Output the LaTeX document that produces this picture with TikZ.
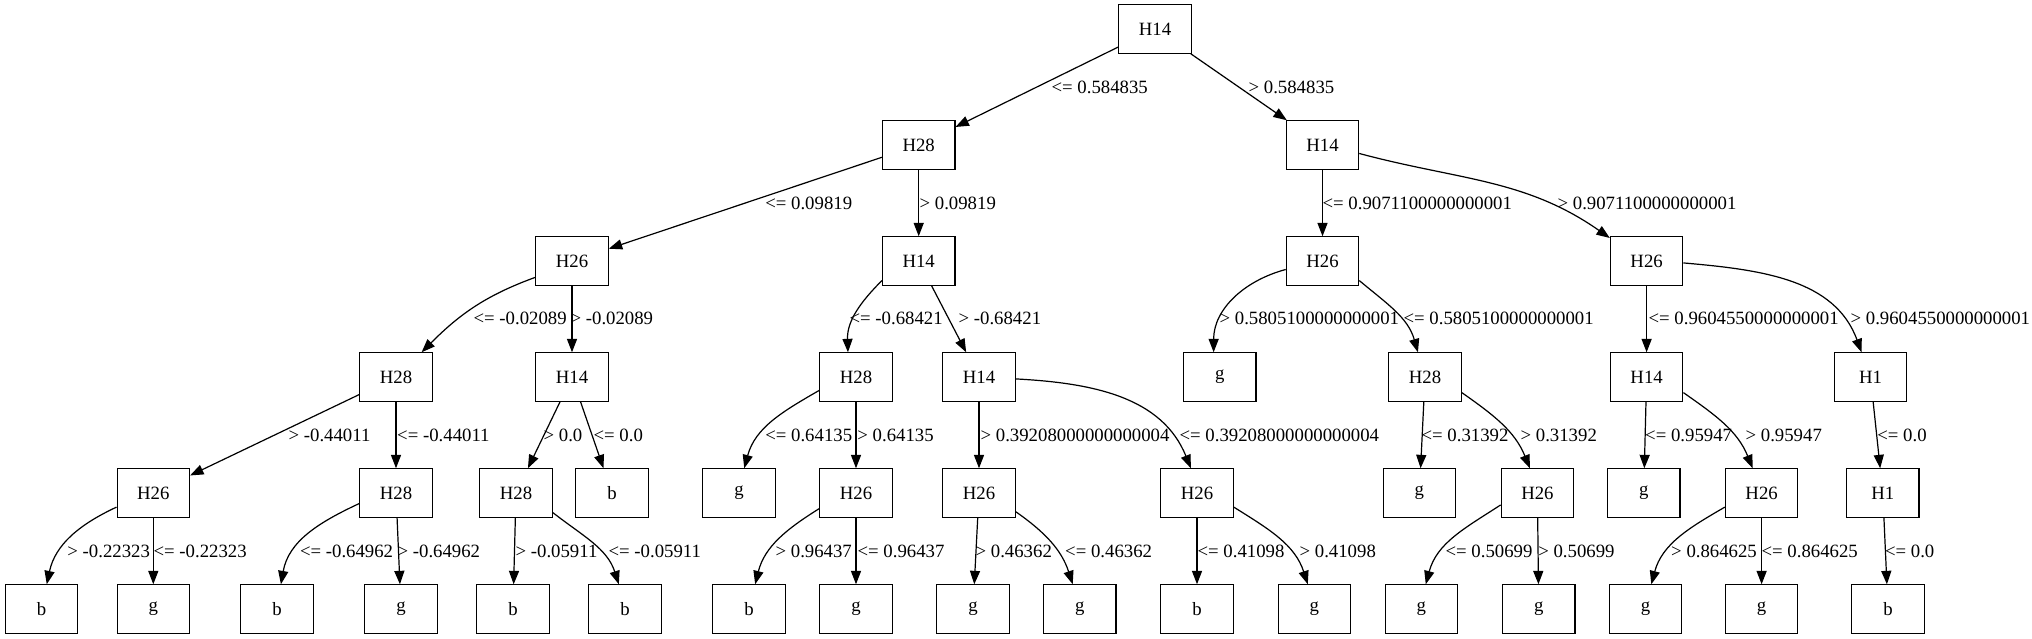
\documentclass[tikz,border=0pt]{standalone}
\usepackage{fontspec}
\setmainfont{Liberation Serif}
\usetikzlibrary{arrows.meta}
\begin{document}
\begin{tikzpicture}[x=0.746pt, y=0.746pt,
    box/.style={rectangle, draw, line width=0.9pt, minimum width=54pt, minimum height=36pt, inner sep=0pt, font=\fontsize{14}{16}\selectfont},
    branch/.style={line width=0.9pt, -{Triangle[length=10pt, width=7.5pt]}},
    cond/.style={anchor=west, inner sep=0pt, font=\fontsize{14}{16}\selectfont}]
    \useasboundingbox (0,0) rectangle (2032,-639) ;
    % level 0 and 1
    \node [box] at (1155,  -29) (A) {H14} ;
    \node [box] at (918.7, -145) (B) {H28} ;
    \node [box] at (1322.5,-145) (C) {H14} ;
    % level 2
    \node [box] at (572,   -261) (D) {H26} ;
    \node [box] at (918.7, -261) (E) {H14} ;
    \node [box] at (1322.5,-261) (F) {H26} ;
    \node [box] at (1646.6,-261) (G) {H26} ;
    % level 3
    \node [box] at (396,   -377) (H) {H28} ;
    \node [box] at (572,   -377) (I) {H14} ;
    \node [box] at (856,   -377) (J) {H28} ;
    \node [box] at (979,   -377) (K) {H14} ;
    \node [box] at (1219.8,-377) (L) {g} ;
    \node [box] at (1425,  -377) (M) {H28} ;
    \node [box] at (1646.6,-377) (N) {H14} ;
    \node [box] at (1870.5,-377) (O) {H1} ;
    % level 4
    \node [box] at (153.3, -493) (P) {H26} ;
    \node [box] at (396,   -493) (Q) {H28} ;
    \node [box] at (516,   -493) (R) {H28} ;
    \node [box] at (612,   -493) (S) {b} ;
    \node [box] at (739,   -493) (T) {g} ;
    \node [box] at (856,   -493) (U) {H26} ;
    \node [box] at (979,   -493) (V) {H26} ;
    \node [box] at (1197,  -493) (W) {H26} ;
    \node [box] at (1419.4,-493) (X) {g} ;
    \node [box] at (1537.4,-493) (Y) {H26} ;
    \node [box] at (1643.7,-493) (Z) {g} ;
    \node [box] at (1761.6,-493) (AA) {H26} ;
    \node [box] at (1882.8,-493) (AB) {H1} ;
    % level 5
    \node [box] at (41.5,  -609) (AC) {b} ;
    \node [box] at (153.3, -609) (AD) {g} ;
    \node [box] at (277,   -609) (AE) {b} ;
    \node [box] at (401,   -609) (AF) {g} ;
    \node [box] at (513,   -609) (AG) {b} ;
    \node [box] at (625,   -609) (AH) {b} ;
    \node [box] at (749,   -609) (AI) {b} ;
    \node [box] at (856,   -609) (AJ) {g} ;
    \node [box] at (973,   -609) (AK) {g} ;
    \node [box] at (1079.8,-609) (AL) {g} ;
    \node [box] at (1197,  -609) (AM) {b} ;
    \node [box] at (1314.4,-609) (AN) {g} ;
    \node [box] at (1421.4,-609) (AO) {g} ;
    \node [box] at (1538.7,-609) (AP) {g} ;
    \node [box] at (1645.6,-609) (AQ) {g} ;
    \node [box] at (1761.6,-609) (AR) {g} ;
    \node [box] at (1888,  -609) (AS) {b} ;
    % branches
    \draw[branch] (A) -- (B) node[cond] at (1051,-87) {<= 0.584835} ;
    \draw[branch] (A) -- (C) node[cond] at (1248,-87) {> 0.584835} ;
    \draw[branch] (B) -- (D) node[cond] at (764.7,-203) {<= 0.09819} ;
    \draw[branch] (B) -- (E) node[cond] at (919,-203) {> 0.09819} ;
    \draw[branch] (C) -- (F) node[cond] at (1322,-203) {<= 0.9071100000000001} ;
    \draw[branch] (C.-13) to[out=-15, in=145] (G.148) node[cond] at (1557,-203) {> 0.9071100000000001} ;
    \draw[branch] (D.204) to[out=200, in=45] (H.44) node[cond] at (473,-318) {<= -0.02089} ;
    \draw[branch] (D) -- (I) node[cond] at (570,-318) {> -0.02089} ;
    \draw[branch] (E.208) to[out=225, in=92] (J.108) node[cond] at (849,-318) {<= -0.68421} ;
    \draw[branch] (E) -- (K) node[cond] at (958,-318) {> -0.68421} ;
    \draw[branch] (F.193) to[out=195, in=90] (L.104) node[cond] at (1219,-318) {> 0.5805100000000001} ;
    \draw[branch] (F.-28) to[out=-40, in=106] (M.106) node[cond] at (1403,-318) {<= 0.5805100000000001} ;
    \draw[branch] (G) -- (N) node[cond] at (1648,-318) {<= 0.9604550000000001} ;
    \draw[branch] (G.-3) to[out=-5, in=110] (O.110) node[cond] at (1850,-318) {> 0.9604550000000001} ;
    \draw[branch] (H) -- (P) node[cond] at (288,-435) {> -0.44011} ;
    \draw[branch] (H) -- (Q) node[cond] at (396.6,-435) {<= -0.44011} ;
    \draw[branch] (I) -- (R) node[cond] at (543,-435) {> 0.0} ;
    \draw[branch] (I) -- (S) node[cond] at (593,-435) {<= 0.0} ;
    \draw[branch] (J.200) to[out=210, in=75] (T.78) node[cond] at (764.7,-435) {<= 0.64135} ;
    \draw[branch] (J) -- (U) node[cond] at (856.8,-435) {> 0.64135} ;
    \draw[branch] (K) -- (V) node[cond] at (980,-435) {> 0.39208000000000004} ;
    \draw[branch] (K.-3) to[out=-3, in=112] (W.104) node[cond] at (1179,-435) {<= 0.39208000000000004} ;
    \draw[branch] (M) -- (X) node[cond] at (1421,-435) {<= 0.31392} ;
    \draw[branch] (M.-23) to[out=-35, in=112] (Y.107) node[cond] at (1520,-435) {> 0.31392} ;
    \draw[branch] (N) -- (Z) node[cond] at (1644.6,-435) {<= 0.95947} ;
    \draw[branch] (N.-23) to[out=-35, in=112] (AA.110) node[cond] at (1745,-435) {> 0.95947} ;
    \draw[branch] (O) -- (AB) node[cond] at (1876.7,-435) {<= 0.0} ;
    \draw[branch] (P.201) to[out=205, in=78] (AC.78) node[cond] at (66.8,-551) {> -0.22323} ;
    \draw[branch] (P) -- (AD) node[cond] at (153,-551) {<= -0.22323} ;
    \draw[branch] (Q.196) to[out=205, in=80] (AE.81) node[cond] at (299.4,-551) {<= -0.64962} ;
    \draw[branch] (Q) -- (AF) node[cond] at (397,-551) {> -0.64962} ;
    \draw[branch] (R) -- (AG) node[cond] at (515,-551) {> -0.05911} ;
    \draw[branch] (R.-28) to[out=-38, in=108] (AH.104) node[cond] at (608,-551) {<= -0.05911} ;
    \draw[branch] (U.203) to[out=212, in=76] (AI.76) node[cond] at (775,-551) {> 0.96437} ;
    \draw[branch] (U) -- (AJ) node[cond] at (857,-551) {<= 0.96437} ;
    \draw[branch] (V) -- (AK) node[cond] at (975,-551) {> 0.46362} ;
    \draw[branch] (V.-27) to[out=-35, in=108] (AL.106) node[cond] at (1064.6,-551) {<= 0.46362} ;
    \draw[branch] (W) -- (AM) node[cond] at (1197,-551) {<= 0.41098} ;
    \draw[branch] (W.-21) to[out=-32, in=108] (AN.105) node[cond] at (1299,-551) {> 0.41098} ;
    \draw[branch] (Y.198) to[out=213, in=75] (AO.80) node[cond] at (1445,-551) {<= 0.50699} ;
    \draw[branch] (Y) -- (AP) node[cond] at (1537.7,-551) {> 0.50699} ;
    \draw[branch] (AA.201) to[out=210, in=75] (AQ.77) node[cond] at (1670.6,-551) {> 0.864625} ;
    \draw[branch] (AA) -- (AR) node[cond] at (1761,-551) {<= 0.864625} ;
    \draw[branch] (AB) -- (AS) node[cond] at (1884.4,-551) {<= 0.0} ;
\end{tikzpicture}
\end{document}
